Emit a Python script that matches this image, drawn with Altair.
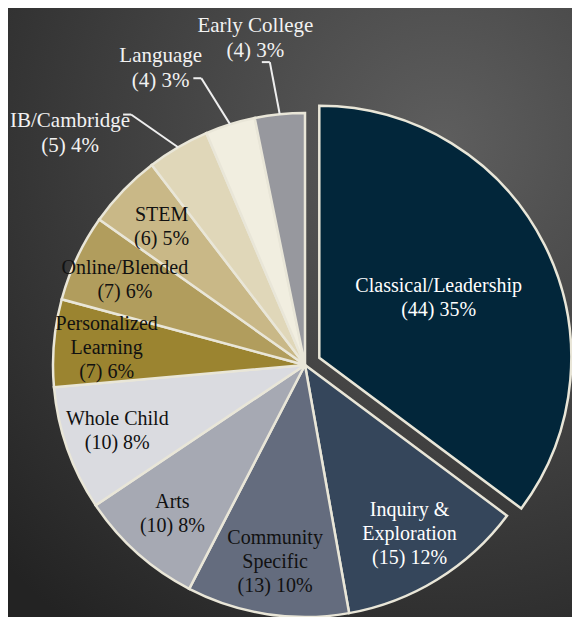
import altair as alt
import pandas as pd

# ---- data ----
categories = [
    "Classical/Leadership", "Inquiry & Exploration", "Community Specific", "Arts",
    "Whole Child", "Personalized Learning", "Online/Blended", "STEM",
    "IB/Cambridge", "Language", "Early College",
]
counts = [44, 15, 13, 10, 10, 7, 7, 6, 5, 4, 4]

# ---- styles ----
fill_colors = [
    "#02263a", "#35465b", "#646c7e", "#a6a9b3", "#dadbe0", "#9b8430",
    "#b19d5d", "#c9b887", "#e0d7b9", "#f1eee0", "#97989e",
]
text_colors = [
    "#ffffff", "#ffffff", "#111111", "#111111", "#111111", "#111111",
    "#111111", "#111111", "#f2f2f2", "#f2f2f2", "#f2f2f2",
]
FONT = "Liberation Serif, Times New Roman, DejaVu Serif, serif"

W = H = 504
R = 252            # pie radius (px)
C = W / 2          # pie centre inside plot area
EXPLODE = 16       # offset of the largest slice
LH_IN = 24
LH_OUT = 25
PAD = {"left": 45, "top": 105, "right": 15, "bottom": 0}

total = sum(counts)


def label_lines(name, c):
    outer = c / total < 0.045
    pct = f"({c}) {round(100 * c / total)}%"
    if not outer and len(name) > 12 and " " in name:
        head, tail = name.rsplit(" ", 1)
        return [head, tail, pct]
    return [name, pct]


df = pd.DataFrame({
    "cat": categories,
    "count": counts,
    "idx": list(range(len(categories))),
    "label": [label_lines(n, c) for n, c in zip(categories, counts)],
})

base = (
    alt.Chart(df)
    .transform_joinaggregate(total="sum(count)", maxv="max(count)")
    .transform_window(cum="sum(count)", sort=[alt.SortField("idx")], frame=[None, 0])
    .transform_calculate(
        a0="2*PI*(datum.cum-datum.count)/datum.total",
        a1="2*PI*datum.cum/datum.total",
    )
    .transform_calculate(
        mid="(datum.a0+datum.a1)/2",
        boom=f"datum.count==datum.maxv ? {EXPLODE} : 0",
        outer="datum.count/datum.total < 0.045",
        nl="length(datum.label)",
    )
    .transform_calculate(
        ex=f"{C} + datum.boom*sin(datum.mid)",
        ey=f"{C} - datum.boom*cos(datum.mid)",
        lr=f"datum.outer ? {1.31 * R} : (datum.count==datum.maxv ? {0.53 * R} : {0.79 * R})",
        la="datum.outer ? datum.mid - 0.5*(2*PI - datum.mid) : datum.mid",
        lh=f"datum.outer ? {LH_OUT} : {LH_IN}",
        ea="datum.mid - 0.15*(2*PI - datum.mid)",
    )
    .transform_calculate(
        tx="datum.ex + datum.lr*sin(datum.la)",
        ty="datum.ey - datum.lr*cos(datum.la) - (datum.nl-1)/2*datum.lh",
        lx0=f"{C} + {R}*sin(datum.mid)",
        ly0=f"{C} - {R}*cos(datum.mid)",
        lx1=f"{C} + {1.21 * R}*sin(datum.ea)",
        ly1=f"{C} - {1.21 * R}*cos(datum.ea)",
    )
    .transform_calculate(lx2="datum.lx1 - 8")
)

fill_scale = alt.Scale(domain=categories, range=fill_colors)
text_scale = alt.Scale(domain=categories, range=text_colors)

gradient = {
    "gradient": "radial",
    "x1": 0.75, "y1": 0.22, "x2": 0.75, "y2": 0.22,
    "r1": 0, "r2": 1.0,
    "stops": [
        {"offset": 0, "color": "#5e5e5e"},
        {"offset": 1, "color": "#232323"},
    ],
}

bg = (
    alt.Chart(pd.DataFrame({"d": [0]}))
    .mark_rect(fill=gradient)
    .encode(
        x=alt.value(-PAD["left"]), x2=alt.value(W + PAD["right"]),
        y=alt.value(-PAD["top"]), y2=alt.value(H + PAD["bottom"]),
    )
)

arcs = base.mark_arc(radius=R, stroke="#e9e6d8", strokeWidth=2.5).encode(
    theta=alt.Theta("a0:Q", scale=None),
    theta2=alt.Theta2("a1:Q"),
    x=alt.X("ex:Q", scale=None),
    y=alt.Y("ey:Q", scale=None),
    fill=alt.Color("cat:N", scale=fill_scale, legend=None),
)

inner_text = (
    base.transform_filter("!datum.outer")
    .mark_text(font=FONT, fontSize=20, lineHeight=LH_IN,
               align="center", baseline="middle")
    .encode(
        x=alt.X("tx:Q", scale=None),
        y=alt.Y("ty:Q", scale=None),
        text="label",
        color=alt.Color("cat:N", scale=text_scale, legend=None),
    )
)

outer_text = (
    base.transform_filter("datum.outer")
    .mark_text(font=FONT, fontSize=21, lineHeight=LH_OUT,
               align="center", baseline="middle")
    .encode(
        x=alt.X("tx:Q", scale=None),
        y=alt.Y("ty:Q", scale=None),
        text="label",
        color=alt.Color("cat:N", scale=text_scale, legend=None),
    )
)

leader1 = (
    base.transform_filter("datum.outer")
    .mark_rule(color="#eeeeee", strokeWidth=2)
    .encode(
        x=alt.X("lx0:Q", scale=None), x2="lx1:Q",
        y=alt.Y("ly0:Q", scale=None), y2="ly1:Q",
    )
)
leader2 = (
    base.transform_filter("datum.outer")
    .mark_rule(color="#eeeeee", strokeWidth=2)
    .encode(
        x=alt.X("lx1:Q", scale=None), x2="lx2:Q",
        y=alt.Y("ly1:Q", scale=None), y2="ly1:Q",
    )
)

chart = (
    alt.layer(bg, arcs, leader1, leader2, inner_text, outer_text)
    .properties(width=W, height=H, padding=PAD,
                autosize=alt.AutoSizeParams(type="none"),
                background="#3a3a3a")
    .configure_view(stroke=None)
)

chart.save("out.html", embed_options={"renderer": "svg", "actions": False})
